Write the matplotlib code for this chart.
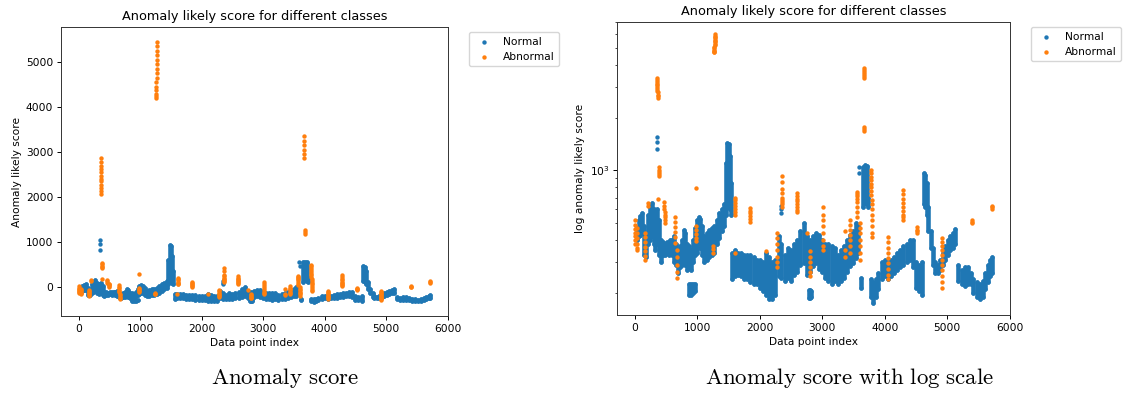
import matplotlib
matplotlib.use("Agg")
import matplotlib.pyplot as plt
from matplotlib.ticker import NullFormatter

plt.rcParams["mathtext.fontset"] = "cm"

# Offset between the raw score (linear plot) and the value shown on the log plot
SHIFT = 500

# ---- Normal class: dense band, read as (index, lower edge, upper edge), log-plot units
normal_idx = [30, 60, 90, 120, 150, 180, 210, 240, 270, 300, 330, 360, 390, 420, 450,
              480, 510, 540, 570, 600, 630, 660, 690, 720, 750, 780, 810, 840, 870, 900,
              930, 960, 990, 1020, 1050, 1080, 1110, 1150, 1190, 1230, 1270, 1310, 1350,
              1390, 1430, 1460, 1480, 1500, 1520, 1540, 1560, 1600, 1650, 1700, 1750,
              1800, 1850, 1900, 1950, 2000, 2050, 2100, 2150, 2200, 2250, 2300, 2340,
              2400, 2450, 2500, 2550, 2600, 2650, 2700, 2750, 2800, 2850, 2900, 2950,
              3000, 3050, 3100, 3150, 3200, 3250, 3300, 3350, 3400, 3450, 3500, 3540,
              3580, 3650, 3680, 3710, 3730, 3780, 3820, 3860, 3900, 3950, 4000, 4050,
              4100, 4150, 4200, 4250, 4300, 4350, 4400, 4450, 4500, 4550, 4600, 4630,
              4650, 4670, 4700, 4740, 4780, 4810, 4850, 4890, 4930, 4970, 5010, 5050,
              5090, 5130, 5180, 5230, 5280, 5330, 5380, 5420, 5470, 5520, 5570, 5610,
              5650, 5690, 5720,
              # low clusters below the band
              870, 900, 930, 960, 2780, 2800, 2820, 3620]
normal_lo = [400, 420, 430, 440, 330, 320, 380, 400, 420, 380, 350, 380, 330, 300, 330,
             330, 340, 330, 340, 330, 300, 290, 260, 280, 290, 300, 290, 270, 280, 270,
             300, 330, 340, 380, 360, 330, 300, 310, 320, 330, 340, 380, 410,
             450, 480, 560, 620, 650, 600, 560, 240, 250, 255, 250, 240,
             240, 230, 225, 225, 215, 205, 195, 185, 185, 195, 250, 245,
             235, 245, 235, 255, 265, 290, 295, 255, 265, 285, 295, 275,
             265, 245, 235, 225, 235, 225, 235, 245, 265, 285, 295, 315,
             340, 620, 650, 640, 620, 190, 175, 190, 210, 240, 250, 240,
             250, 260, 270, 280, 290, 300, 310, 280, 215, 205, 195, 640,
             620, 560, 450, 360, 290, 260, 260, 270, 290, 310, 330, 350,
             360, 380, 235, 225, 220, 225, 225, 200, 190, 185, 190, 210,
             230, 250, 260,
             195, 195, 200, 205, 188, 188, 190, 215]
normal_hi = [470, 520, 550, 570, 480, 430, 560, 620, 650, 600, 560, 600, 520, 400, 390,
             380, 390, 390, 400, 400, 420, 380, 350, 370, 400, 460, 440, 380, 370, 350,
             400, 470, 520, 540, 530, 480, 420, 440, 460, 470, 480, 520, 570,
             600, 640, 1100, 1440, 1420, 1200, 850, 340, 350, 340, 340, 330,
             330, 330, 320, 310, 310, 300, 340, 320, 300, 310, 420, 380,
             330, 360, 350, 380, 400, 450, 500, 420, 400, 420, 440, 430,
             400, 380, 380, 370, 360, 330, 350, 370, 400, 430, 450, 500,
             480, 1050, 1070, 1060, 700, 240, 230, 240, 260, 300, 310, 300,
             310, 320, 340, 350, 370, 380, 400, 400, 300, 290, 300, 960,
             940, 850, 620, 450, 360, 300, 290, 310, 340, 370, 400, 420,
             440, 465, 290, 270, 280, 280, 260, 240, 230, 225, 235, 260,
             290, 310, 320,
             225, 225, 225, 225, 208, 208, 205, 245]

# isolated normal points (index, value in log-plot units)
normal_pt_idx = [350, 352, 355, 2340, 2342, 2340, 3590, 3595]
normal_pt_val = [1540, 1450, 1320, 630, 600, 570, 1050, 960]

# ---- Abnormal class: vertical columns of points, log-plot units
abnormal_idx = [10, 35, 170, 205, 360, 372, 385, 375, 470, 490, 650, 670, 980, 985,
                1245, 1265, 1280, 1600, 1610, 1840, 2100, 2280, 2360, 2590, 2750, 2810,
                3020, 3360, 3440, 3560, 3600, 3670, 3675, 3780, 3800, 4050, 4290, 4520,
                4920, 5400, 5720]
abnormal_vals = [
    [520, 490, 465, 440, 420, 400, 380],
    [470, 440, 410, 380, 360, 350],
    [440, 415, 390, 365, 345, 325, 310],
    [650, 630],
    [3360, 3280, 3200, 3120, 3050, 2980, 2900, 2850],
    [2780, 2700, 2640, 2580],
    [1040, 1010, 980, 955, 930],
    [685],
    [660, 630, 600],
    [580, 560, 540, 520, 500],
    [540, 505, 475, 445, 415, 385],
    [350, 320, 290, 265, 245],
    [790],
    [485, 460, 435, 410, 395],
    [370, 355, 340],
    [4700, 4750, 4800, 4880, 4950, 5050],
    [5150, 5250, 5350, 5450, 5550, 5650, 5750, 5850, 5950],
    [340],
    [700, 675, 650, 625, 600, 580, 560],
    [610, 590, 570, 550, 530, 510],
    [345],
    [440, 410, 380, 350, 320, 300, 280],
    [925, 860, 780, 740, 700, 680, 660, 640, 620],
    [740, 715, 690, 665, 640, 615, 595, 580],
    [440],
    [345, 320, 300, 280, 262, 250],
    [615, 560, 520, 480, 440, 400, 370, 350],
    [450, 350, 320],
    [520, 490, 460, 430, 400, 370, 340],
    [750, 730, 710, 690, 660, 620, 580, 540],
    [500, 470, 440, 400, 370, 340, 310],
    [3850, 3750, 3650, 3550, 3450, 3380],
    [1760, 1720, 1680],
    [1000, 960, 920, 880, 840, 800, 760, 720],
    [680, 640, 600, 560, 520, 480, 440, 415],
    [415, 390, 360, 340, 315, 295, 275, 255, 240],
    [770, 730, 690, 650, 620, 590, 560, 540, 520],
    [475, 460, 450, 440],
    [410, 390, 370, 350, 330, 310, 290, 270, 250, 232, 215],
    [520, 510, 500],
    [630, 615, 600],
]

C_NORMAL = "#1f77b4"
C_ABN = "#ff7f0e"

fig = plt.figure(figsize=(11.27, 3.94), dpi=100)
W, H = 1127, 394
ax1 = fig.add_axes([61 / W, (H - 316) / H, (448 - 61) / W, (316 - 27) / H])
ax2 = fig.add_axes([617 / W, (H - 315) / H, (1010 - 617) / W, (315 - 22) / H])

FS = 7.7
TFS = 9.25


def draw(ax, offset):
    lo = [v - offset for v in normal_lo]
    hi = [v - offset for v in normal_hi]
    ax.vlines(normal_idx, lo, hi, colors=C_NORMAL, linewidth=3.3, capstyle="round")
    ax.scatter(normal_idx + normal_idx + normal_pt_idx,
               lo + hi + [v - offset for v in normal_pt_val],
               s=10, color=C_NORMAL, linewidths=0, label="Normal")
    ax_x, ax_y = [], []
    for i, vals in zip(abnormal_idx, abnormal_vals):
        for v in vals:
            ax_x.append(i)
            ax_y.append(v - offset)
    ax.scatter(ax_x, ax_y, s=10, color=C_ABN, linewidths=0, label="Abnormal", zorder=3)
    ax.set_xlim(-286, 6006)
    ax.set_xticks([0, 1000, 2000, 3000, 4000, 5000, 6000])
    ax.tick_params(labelsize=FS, length=2.8, width=0.7, pad=2.7)
    for sp in ax.spines.values():
        sp.set_linewidth(0.7)
        sp.set_color("#333333")
    ax.set_xlabel("Data point index", fontsize=FS, labelpad=3)
    ax.set_title("Anomaly likely score for different classes", fontsize=TFS, pad=5)
    ax.legend(loc="upper left", fontsize=FS, scatterpoints=1,
              bbox_to_anchor=(1.04, 1.0), borderaxespad=0.5)


draw(ax1, SHIFT)
ax1.set_ylim(-640, 5780)
ax1.set_ylabel("Anomaly likely score", fontsize=FS, labelpad=3)

draw(ax2, 0)
ax2.set_yscale("log")
ax2.set_ylim(150, 7000)
ax2.yaxis.set_minor_formatter(NullFormatter())
ax2.set_ylabel("log anomaly likely score", fontsize=FS, labelpad=3)
ax2.tick_params(which="minor", length=1.8, width=0.5)

fig.text(285 / W, 1 - 378 / H, r"$\mathrm{Anomaly\ score}$", ha="center",
         va="center", fontsize=16.5)
fig.text(850 / W, 1 - 378 / H, r"$\mathrm{Anomaly\ score\ with\ log\ scale}$",
         ha="center", va="center", fontsize=16.5)

fig.savefig("out.png", dpi=100)
